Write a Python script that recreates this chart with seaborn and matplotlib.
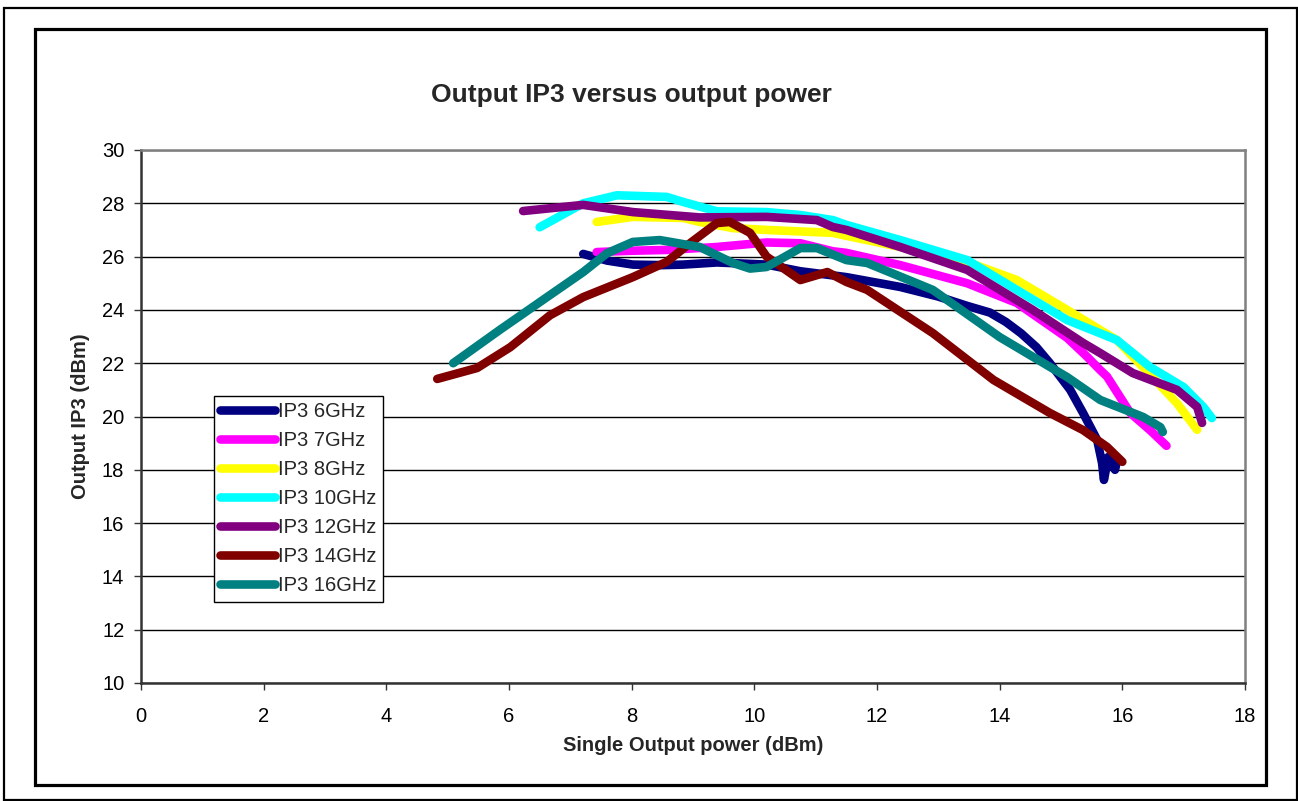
import matplotlib
matplotlib.use("Agg")
import matplotlib.pyplot as plt
from matplotlib.patches import Rectangle
import seaborn as sns
import pandas as pd

series_names = ["IP3 6GHz", "IP3 7GHz", "IP3 8GHz", "IP3 10GHz", "IP3 12GHz", "IP3 14GHz", "IP3 16GHz"]
series_colors = ["#000080", "#FF00FF", "#FFFF00", "#00FFFF", "#800080", "#800000", "#008080"]

x_6 = [7.21, 7.6, 8.02, 8.5, 8.84, 9.39, 10.2, 10.75, 11.5, 12.38, 13.0, 13.47, 13.84, 14.1, 14.35, 14.6, 14.82, 15.15, 15.36, 15.59, 15.67, 15.70, 15.77, 15.88, 15.91]
y_6 = [26.1, 25.85, 25.7, 25.68, 25.7, 25.78, 25.7, 25.45, 25.23, 24.86, 24.5, 24.15, 23.9, 23.55, 23.12, 22.6, 22.0, 21.0, 20.13, 19.12, 18.25, 17.62, 18.48, 18.0, 18.3]

x_7 = [7.43, 8.0, 8.57, 9.39, 10.2, 10.75, 11.28, 11.5, 12.38, 13.47, 14.28, 15.1, 15.4, 15.64, 15.75, 16.13, 16.45, 16.72]
y_7 = [26.17, 26.22, 26.25, 26.36, 26.53, 26.5, 26.2, 26.14, 25.68, 25.0, 24.26, 22.95, 22.3, 21.74, 21.5, 20.13, 19.49, 18.9]

x_8 = [7.43, 8.02, 8.84, 9.11, 9.65, 10.2, 11.28, 11.5, 12.38, 13.47, 14.28, 15.1, 15.91, 16.4, 16.89, 17.22]
y_8 = [27.3, 27.49, 27.45, 27.3, 27.07, 27.0, 26.89, 26.78, 26.36, 25.8, 25.12, 24.0, 22.87, 21.7, 20.5, 19.5]

x_10 = [6.5, 7.21, 7.76, 8.57, 8.84, 9.39, 10.2, 10.75, 11.28, 11.5, 12.38, 13.47, 14.28, 15.1, 15.91, 16.45, 17.0, 17.32, 17.46]
y_10 = [27.1, 28.0, 28.3, 28.24, 28.05, 27.7, 27.67, 27.56, 27.37, 27.19, 26.62, 25.87, 24.75, 23.62, 22.87, 21.86, 21.1, 20.36, 19.94]

x_12 = [6.23, 7.21, 8.02, 9.11, 10.2, 11.02, 11.28, 11.5, 12.38, 13.47, 14.54, 15.36, 15.64, 16.17, 16.89, 17.22, 17.3]
y_12 = [27.71, 27.94, 27.67, 27.47, 27.49, 27.37, 27.11, 27.0, 26.36, 25.5, 24.0, 22.76, 22.38, 21.63, 21.0, 20.36, 19.76]

x_14 = [4.83, 5.48, 6.02, 6.67, 7.21, 8.02, 8.57, 8.95, 9.39, 9.6, 9.93, 10.2, 10.75, 11.19, 11.5, 11.84, 12.91, 13.9, 14.82, 15.36, 15.75, 16.0]
y_14 = [21.41, 21.82, 22.6, 23.8, 24.48, 25.23, 25.8, 26.5, 27.26, 27.3, 26.89, 26.0, 25.12, 25.42, 25.05, 24.75, 23.13, 21.37, 20.13, 19.49, 18.86, 18.3]

x_16 = [5.09, 5.85, 6.67, 7.21, 7.6, 8.02, 8.46, 9.11, 9.65, 9.93, 10.2, 10.75, 11.02, 11.5, 11.84, 12.91, 14.0, 14.82, 15.1, 15.64, 16.34, 16.62, 16.66]
y_16 = [22.0, 23.25, 24.56, 25.42, 26.13, 26.55, 26.62, 26.36, 25.76, 25.55, 25.61, 26.32, 26.32, 25.87, 25.76, 24.75, 22.98, 21.86, 21.48, 20.62, 19.98, 19.6, 19.42]

x_ticks = [0, 2, 4, 6, 8, 10, 12, 14, 16, 18]
y_ticks = [10, 12, 14, 16, 18, 20, 22, 24, 26, 28, 30]

title_text = "Output IP3 versus output power"
x_label = "Single Output power (dBm)"
y_label = "Output IP3 (dBm)"

xs = [x_6, x_7, x_8, x_10, x_12, x_14, x_16]
ys = [y_6, y_7, y_8, y_10, y_12, y_14, y_16]
rows = []
for name, xv, yv in zip(series_names, xs, ys):
    for i, (a, b) in enumerate(zip(xv, yv)):
        rows.append({"series": name, "x": a, "y": b, "order": i})
df = pd.DataFrame(rows)

sns.set_theme(style="white")
plt.rcParams["font.family"] = ["Liberation Sans", "DejaVu Sans"]

W, H = 1298, 801
fig = plt.figure(figsize=(W / 100, H / 100), dpi=100)
ax = fig.add_axes([141 / W, 1 - 683 / H, (1245 - 141) / W, (683 - 150) / H])

palette = dict(zip(series_names, series_colors))
sns.lineplot(data=df, x="x", y="y", hue="series", hue_order=series_names, palette=palette,
             sort=False, estimator=None, linewidth=6.2, ax=ax,
             solid_capstyle="round", solid_joinstyle="round", legend=True)

ax.set_xlim(0, 18)
ax.set_ylim(10, 30)
ax.set_xticks(x_ticks)
ax.set_yticks(y_ticks)
ax.set_xticklabels([str(t) for t in x_ticks])
ax.set_yticklabels([str(t) for t in y_ticks])
ax.grid(axis="y", color="black", linewidth=1.0)
ax.grid(axis="x", visible=False)
ax.set_axisbelow(True)

for side in ["top", "right"]:
    ax.spines[side].set_color("#808080")
    ax.spines[side].set_linewidth(1.8)
for side in ["left", "bottom"]:
    ax.spines[side].set_color("#333333")
    ax.spines[side].set_linewidth(1.8)
    ax.spines[side].set_visible(True)

ax.tick_params(axis="both", which="major", direction="out", length=5, width=1.0,
               color="#333333", labelsize=14.5, labelcolor="black",
               bottom=True, left=True)
ax.tick_params(axis="x", pad=12)
ax.tick_params(axis="y", pad=7)

ax.set_xlabel(x_label, fontsize=14.5, fontweight="bold")
ax.set_ylabel(y_label, fontsize=14.5, fontweight="bold")
ax.xaxis.set_label_coords(0.5, -0.1)
ax.yaxis.set_label_coords(-0.046, 0.5)

fig.text(631 / W, 1 - 102 / H, title_text, fontsize=19, fontweight="bold",
         ha="center", va="baseline")

handles, labels = ax.get_legend_handles_labels()
leg = ax.legend(handles, labels, loc="upper left",
                bbox_to_anchor=(214 / W, 1 - 396 / H), bbox_transform=fig.transFigure,
                borderaxespad=0, frameon=True, fancybox=False, shadow=False,
                fontsize=14.5, handlelength=2.75, handletextpad=0.15,
                labelspacing=0.5, borderpad=0.3, title=None)
leg.get_frame().set_edgecolor("black")
leg.get_frame().set_linewidth(1.0)
leg.get_frame().set_facecolor("white")
leg.get_frame().set_alpha(1)
for ln in leg.get_lines():
    ln.set_linewidth(6.2)
    ln.set_solid_capstyle("round")

# outer frames
fig.patches.append(Rectangle((4 / W, 1 - 800 / H), (1297 - 4) / W, (800 - 8) / H,
                             transform=fig.transFigure, fill=False, edgecolor="black", linewidth=1.6))
fig.patches.append(Rectangle((35 / W, 1 - 785 / H), (1266 - 35) / W, (785 - 29) / H,
                             transform=fig.transFigure, fill=False, edgecolor="black", linewidth=2.3))

fig.savefig("out.png", dpi=100, facecolor="white")
